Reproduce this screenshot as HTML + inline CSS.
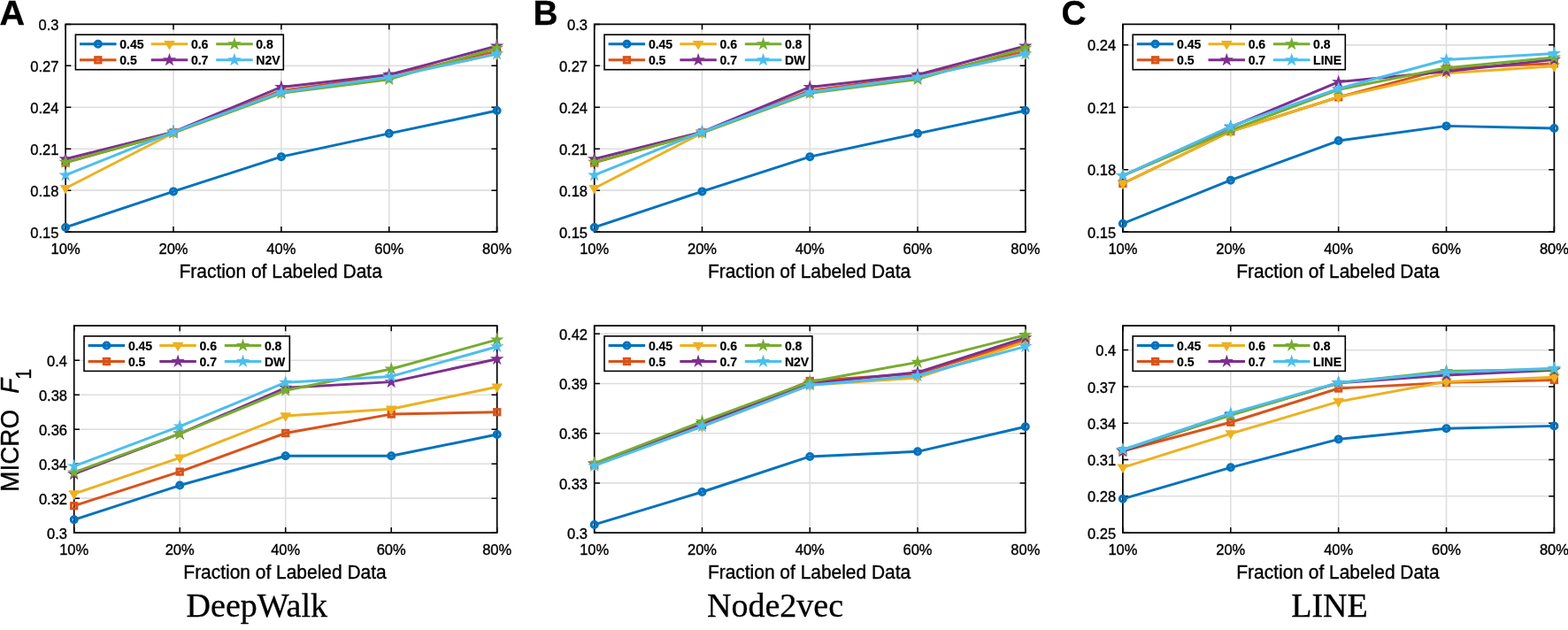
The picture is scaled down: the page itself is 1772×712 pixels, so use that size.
<!DOCTYPE html>
<html><head><meta charset="utf-8"><title>MICRO F1 vs Fraction of Labeled Data</title>
<style>html,body{margin:0;padding:0;background:#fff;}svg{display:block;}.t{font-family:"Liberation Sans",Arial,Helvetica,sans-serif;fill:#000;stroke:#000;stroke-width:0.35px;}.b{stroke-width:0.2px;}.s{font-family:"Liberation Serif","Times New Roman",serif;fill:#000;stroke:#000;stroke-width:0.3px;}</style>
</head><body>
<svg width="1772" height="712" viewBox="0 0 1772 712">
<rect width="1772" height="712" fill="#fff"/>
<path d="M195.97 27.4V262.1M317.85 27.4V262.1M439.73 27.4V262.1M74.1 215.16H561.6M74.1 168.22H561.6M74.1 121.28H561.6M74.1 74.34H561.6" stroke="#dedede" stroke-width="1.6" fill="none"/>
<path d="M74.1 262.1v-6.2M74.1 27.4v6.2M195.97 262.1v-6.2M195.97 27.4v6.2M317.85 262.1v-6.2M317.85 27.4v6.2M439.73 262.1v-6.2M439.73 27.4v6.2M561.6 262.1v-6.2M561.6 27.4v6.2M74.1 262.1h6.2M561.6 262.1h-6.2M74.1 215.16h6.2M561.6 215.16h-6.2M74.1 168.22h6.2M561.6 168.22h-6.2M74.1 121.28h6.2M561.6 121.28h-6.2M74.1 74.34h6.2M561.6 74.34h-6.2M74.1 27.4h6.2M561.6 27.4h-6.2" stroke="#000" stroke-width="1.5" fill="none"/>
<rect x="74.1" y="27.4" width="487.5" height="234.7" fill="none" stroke="#000" stroke-width="1.7"/>
<text class="t" x="74.1" y="287" font-size="16.5" text-anchor="middle">10%</text>
<text class="t" x="195.97" y="287" font-size="16.5" text-anchor="middle">20%</text>
<text class="t" x="317.85" y="287" font-size="16.5" text-anchor="middle">40%</text>
<text class="t" x="439.73" y="287" font-size="16.5" text-anchor="middle">60%</text>
<text class="t" x="561.6" y="287" font-size="16.5" text-anchor="middle">80%</text>
<text class="t" x="66.4" y="268.7" font-size="16.5" text-anchor="end">0.15</text>
<text class="t" x="66.4" y="221.76" font-size="16.5" text-anchor="end">0.18</text>
<text class="t" x="66.4" y="174.82" font-size="16.5" text-anchor="end">0.21</text>
<text class="t" x="66.4" y="127.88" font-size="16.5" text-anchor="end">0.24</text>
<text class="t" x="66.4" y="80.94" font-size="16.5" text-anchor="end">0.27</text>
<text class="t" x="66.4" y="34" font-size="16.5" text-anchor="end">0.3</text>
<text class="t" transform="translate(317.15,314) scale(1,1.04)" font-size="20.95" text-anchor="middle">Fraction of Labeled Data</text>
<polyline points="74.1,256.94 195.97,216.41 317.85,177.14 439.73,150.85 561.6,125.04" fill="none" stroke="#0072BD" stroke-width="2.95" stroke-linejoin="round"/>
<circle cx="74.1" cy="256.94" r="3.45" fill="none" stroke="#0072BD" stroke-width="3.1"/>
<circle cx="195.97" cy="216.41" r="3.45" fill="none" stroke="#0072BD" stroke-width="3.1"/>
<circle cx="317.85" cy="177.14" r="3.45" fill="none" stroke="#0072BD" stroke-width="3.1"/>
<circle cx="439.73" cy="150.85" r="3.45" fill="none" stroke="#0072BD" stroke-width="3.1"/>
<circle cx="561.6" cy="125.04" r="3.45" fill="none" stroke="#0072BD" stroke-width="3.1"/>
<polyline points="74.1,183.87 195.97,149.76 317.85,102.5 439.73,86.07 561.6,57.91" fill="none" stroke="#D95319" stroke-width="2.95" stroke-linejoin="round"/>
<rect x="70.9" y="180.67" width="6.4" height="6.4" fill="none" stroke="#D95319" stroke-width="2.9"/>
<rect x="192.78" y="146.56" width="6.4" height="6.4" fill="none" stroke="#D95319" stroke-width="2.9"/>
<rect x="314.65" y="99.3" width="6.4" height="6.4" fill="none" stroke="#D95319" stroke-width="2.9"/>
<rect x="436.53" y="82.87" width="6.4" height="6.4" fill="none" stroke="#D95319" stroke-width="2.9"/>
<rect x="558.4" y="54.71" width="6.4" height="6.4" fill="none" stroke="#D95319" stroke-width="2.9"/>
<polyline points="74.1,212.81 195.97,150.23 317.85,105.16 439.73,86.86 561.6,61.04" fill="none" stroke="#EDB120" stroke-width="2.95" stroke-linejoin="round"/>
<polygon points="67.7,209.01 80.5,209.01 74.1,219.61" fill="#EDB120"/>
<polygon points="189.57,146.43 202.38,146.43 195.97,157.03" fill="#EDB120"/>
<polygon points="311.45,101.36 324.25,101.36 317.85,111.96" fill="#EDB120"/>
<polygon points="433.33,83.06 446.12,83.06 439.73,93.66" fill="#EDB120"/>
<polygon points="555.2,57.24 568,57.24 561.6,67.84" fill="#EDB120"/>
<polyline points="74.1,179.8 195.97,149.13 317.85,98.44 439.73,84.51 561.6,51.97" fill="none" stroke="#7E2F8E" stroke-width="2.95" stroke-linejoin="round"/>
<polygon points="74.1,171.7 75.92,177.3 81.8,177.3 77.04,180.75 78.86,186.35 74.1,182.89 69.34,186.35 71.16,180.75 66.4,177.3 72.28,177.3" fill="#7E2F8E"/>
<polygon points="195.97,141.03 197.79,146.63 203.68,146.63 198.92,150.09 200.74,155.68 195.97,152.23 191.21,155.68 193.03,150.09 188.27,146.63 194.16,146.63" fill="#7E2F8E"/>
<polygon points="317.85,90.34 319.67,95.93 325.55,95.93 320.79,99.39 322.61,104.99 317.85,101.53 313.09,104.99 314.91,99.39 310.15,95.93 316.03,95.93" fill="#7E2F8E"/>
<polygon points="439.73,76.41 441.54,82.01 447.43,82.01 442.67,85.47 444.49,91.06 439.73,87.6 434.96,91.06 436.78,85.47 432.02,82.01 437.91,82.01" fill="#7E2F8E"/>
<polygon points="561.6,43.87 563.42,49.46 569.3,49.46 564.54,52.92 566.36,58.52 561.6,55.06 556.84,58.52 558.66,52.92 553.9,49.46 559.78,49.46" fill="#7E2F8E"/>
<polyline points="74.1,183.24 195.97,150.23 317.85,105.32 439.73,89.67 561.6,54.31" fill="none" stroke="#77AC30" stroke-width="2.95" stroke-linejoin="round"/>
<polygon points="74.1,175.14 75.92,180.74 81.8,180.74 77.04,184.2 78.86,189.79 74.1,186.34 69.34,189.79 71.16,184.2 66.4,180.74 72.28,180.74" fill="#77AC30"/>
<polygon points="195.97,142.13 197.79,147.72 203.68,147.72 198.92,151.18 200.74,156.78 195.97,153.32 191.21,156.78 193.03,151.18 188.27,147.72 194.16,147.72" fill="#77AC30"/>
<polygon points="317.85,97.22 319.67,102.82 325.55,102.82 320.79,106.28 322.61,111.87 317.85,108.41 313.09,111.87 314.91,106.28 310.15,102.82 316.03,102.82" fill="#77AC30"/>
<polygon points="439.73,81.57 441.54,87.17 447.43,87.17 442.67,90.63 444.49,96.23 439.73,92.77 434.96,96.23 436.78,90.63 432.02,87.17 437.91,87.17" fill="#77AC30"/>
<polygon points="561.6,46.21 563.42,51.81 569.3,51.81 564.54,55.27 566.36,60.87 561.6,57.41 556.84,60.87 558.66,55.27 553.9,51.81 559.78,51.81" fill="#77AC30"/>
<polyline points="74.1,197.95 195.97,149.13 317.85,104.23 439.73,87.33 561.6,60.88" fill="none" stroke="#4DBEEE" stroke-width="2.95" stroke-linejoin="round"/>
<polygon points="74.1,189.85 75.92,195.45 81.8,195.45 77.04,198.9 78.86,204.5 74.1,201.04 69.34,204.5 71.16,198.9 66.4,195.45 72.28,195.45" fill="#4DBEEE"/>
<polygon points="195.97,141.03 197.79,146.63 203.68,146.63 198.92,150.09 200.74,155.68 195.97,152.23 191.21,155.68 193.03,150.09 188.27,146.63 194.16,146.63" fill="#4DBEEE"/>
<polygon points="317.85,96.13 319.67,101.72 325.55,101.72 320.79,105.18 322.61,110.78 317.85,107.32 313.09,110.78 314.91,105.18 310.15,101.72 316.03,101.72" fill="#4DBEEE"/>
<polygon points="439.73,79.23 441.54,84.82 447.43,84.82 442.67,88.28 444.49,93.88 439.73,90.42 434.96,93.88 436.78,88.28 432.02,84.82 437.91,84.82" fill="#4DBEEE"/>
<polygon points="561.6,52.78 563.42,58.38 569.3,58.38 564.54,61.84 566.36,67.44 561.6,63.98 556.84,67.44 558.66,61.84 553.9,58.38 559.78,58.38" fill="#4DBEEE"/>
<rect x="85.4" y="39.2" width="234.9" height="39.5" fill="#fff" stroke="#000" stroke-width="1.6"/>
<path d="M90 49.8h41.5" stroke="#0072BD" stroke-width="2.95"/>
<circle cx="110.8" cy="49.8" r="3.45" fill="none" stroke="#0072BD" stroke-width="3.1"/>
<text class="t b" x="135.3" y="55.1" font-size="14" font-weight="bold">0.45</text>
<path d="M90 67.8h41.5" stroke="#D95319" stroke-width="2.95"/>
<rect x="107.6" y="64.6" width="6.4" height="6.4" fill="none" stroke="#D95319" stroke-width="2.9"/>
<text class="t b" x="135.3" y="73.1" font-size="14" font-weight="bold">0.5</text>
<path d="M170.7 49.8h41.5" stroke="#EDB120" stroke-width="2.95"/>
<polygon points="185.1,46 197.9,46 191.5,56.6" fill="#EDB120"/>
<text class="t b" x="215.9" y="55.1" font-size="14" font-weight="bold">0.6</text>
<path d="M170.7 67.8h41.5" stroke="#7E2F8E" stroke-width="2.95"/>
<polygon points="191.5,59.7 193.32,65.3 199.2,65.3 194.44,68.76 196.26,74.35 191.5,70.89 186.74,74.35 188.56,68.76 183.8,65.3 189.68,65.3" fill="#7E2F8E"/>
<text class="t b" x="215.9" y="73.1" font-size="14" font-weight="bold">0.7</text>
<path d="M244.2 49.8h41.5" stroke="#77AC30" stroke-width="2.95"/>
<polygon points="264.9,41.7 266.72,47.3 272.6,47.3 267.84,50.76 269.66,56.35 264.9,52.89 260.14,56.35 261.96,50.76 257.2,47.3 263.08,47.3" fill="#77AC30"/>
<text class="t b" x="289.3" y="55.1" font-size="14" font-weight="bold">0.8</text>
<path d="M244.2 67.8h41.5" stroke="#4DBEEE" stroke-width="2.95"/>
<polygon points="264.9,59.7 266.72,65.3 272.6,65.3 267.84,68.76 269.66,74.35 264.9,70.89 260.14,74.35 261.96,68.76 257.2,65.3 263.08,65.3" fill="#4DBEEE"/>
<text class="t b" x="289.3" y="73.1" font-size="14" font-weight="bold">N2V</text>
<path d="M793.48 27.4V262.1M915.25 27.4V262.1M1037.03 27.4V262.1M671.7 215.16H1158.8M671.7 168.22H1158.8M671.7 121.28H1158.8M671.7 74.34H1158.8" stroke="#dedede" stroke-width="1.6" fill="none"/>
<path d="M671.7 262.1v-6.2M671.7 27.4v6.2M793.48 262.1v-6.2M793.48 27.4v6.2M915.25 262.1v-6.2M915.25 27.4v6.2M1037.03 262.1v-6.2M1037.03 27.4v6.2M1158.8 262.1v-6.2M1158.8 27.4v6.2M671.7 262.1h6.2M1158.8 262.1h-6.2M671.7 215.16h6.2M1158.8 215.16h-6.2M671.7 168.22h6.2M1158.8 168.22h-6.2M671.7 121.28h6.2M1158.8 121.28h-6.2M671.7 74.34h6.2M1158.8 74.34h-6.2M671.7 27.4h6.2M1158.8 27.4h-6.2" stroke="#000" stroke-width="1.5" fill="none"/>
<rect x="671.7" y="27.4" width="487.1" height="234.7" fill="none" stroke="#000" stroke-width="1.7"/>
<text class="t" x="671.7" y="287" font-size="16.5" text-anchor="middle">10%</text>
<text class="t" x="793.48" y="287" font-size="16.5" text-anchor="middle">20%</text>
<text class="t" x="915.25" y="287" font-size="16.5" text-anchor="middle">40%</text>
<text class="t" x="1037.03" y="287" font-size="16.5" text-anchor="middle">60%</text>
<text class="t" x="1158.8" y="287" font-size="16.5" text-anchor="middle">80%</text>
<text class="t" x="664" y="268.7" font-size="16.5" text-anchor="end">0.15</text>
<text class="t" x="664" y="221.76" font-size="16.5" text-anchor="end">0.18</text>
<text class="t" x="664" y="174.82" font-size="16.5" text-anchor="end">0.21</text>
<text class="t" x="664" y="127.88" font-size="16.5" text-anchor="end">0.24</text>
<text class="t" x="664" y="80.94" font-size="16.5" text-anchor="end">0.27</text>
<text class="t" x="664" y="34" font-size="16.5" text-anchor="end">0.3</text>
<text class="t" transform="translate(914.55,314) scale(1,1.04)" font-size="20.95" text-anchor="middle">Fraction of Labeled Data</text>
<polyline points="671.7,256.94 793.48,216.41 915.25,177.14 1037.03,150.85 1158.8,125.04" fill="none" stroke="#0072BD" stroke-width="2.95" stroke-linejoin="round"/>
<circle cx="671.7" cy="256.94" r="3.45" fill="none" stroke="#0072BD" stroke-width="3.1"/>
<circle cx="793.48" cy="216.41" r="3.45" fill="none" stroke="#0072BD" stroke-width="3.1"/>
<circle cx="915.25" cy="177.14" r="3.45" fill="none" stroke="#0072BD" stroke-width="3.1"/>
<circle cx="1037.03" cy="150.85" r="3.45" fill="none" stroke="#0072BD" stroke-width="3.1"/>
<circle cx="1158.8" cy="125.04" r="3.45" fill="none" stroke="#0072BD" stroke-width="3.1"/>
<polyline points="671.7,183.87 793.48,149.76 915.25,102.5 1037.03,86.07 1158.8,57.91" fill="none" stroke="#D95319" stroke-width="2.95" stroke-linejoin="round"/>
<rect x="668.5" y="180.67" width="6.4" height="6.4" fill="none" stroke="#D95319" stroke-width="2.9"/>
<rect x="790.27" y="146.56" width="6.4" height="6.4" fill="none" stroke="#D95319" stroke-width="2.9"/>
<rect x="912.05" y="99.3" width="6.4" height="6.4" fill="none" stroke="#D95319" stroke-width="2.9"/>
<rect x="1033.83" y="82.87" width="6.4" height="6.4" fill="none" stroke="#D95319" stroke-width="2.9"/>
<rect x="1155.6" y="54.71" width="6.4" height="6.4" fill="none" stroke="#D95319" stroke-width="2.9"/>
<polyline points="671.7,212.81 793.48,150.23 915.25,105.16 1037.03,86.86 1158.8,61.04" fill="none" stroke="#EDB120" stroke-width="2.95" stroke-linejoin="round"/>
<polygon points="665.3,209.01 678.1,209.01 671.7,219.61" fill="#EDB120"/>
<polygon points="787.08,146.43 799.88,146.43 793.48,157.03" fill="#EDB120"/>
<polygon points="908.85,101.36 921.65,101.36 915.25,111.96" fill="#EDB120"/>
<polygon points="1030.62,83.06 1043.43,83.06 1037.03,93.66" fill="#EDB120"/>
<polygon points="1152.4,57.24 1165.2,57.24 1158.8,67.84" fill="#EDB120"/>
<polyline points="671.7,179.8 793.48,149.13 915.25,98.44 1037.03,84.51 1158.8,51.97" fill="none" stroke="#7E2F8E" stroke-width="2.95" stroke-linejoin="round"/>
<polygon points="671.7,171.7 673.52,177.3 679.4,177.3 674.64,180.75 676.46,186.35 671.7,182.89 666.94,186.35 668.76,180.75 664,177.3 669.88,177.3" fill="#7E2F8E"/>
<polygon points="793.48,141.03 795.29,146.63 801.18,146.63 796.42,150.09 798.24,155.68 793.48,152.23 788.71,155.68 790.53,150.09 785.77,146.63 791.66,146.63" fill="#7E2F8E"/>
<polygon points="915.25,90.34 917.07,95.93 922.95,95.93 918.19,99.39 920.01,104.99 915.25,101.53 910.49,104.99 912.31,99.39 907.55,95.93 913.43,95.93" fill="#7E2F8E"/>
<polygon points="1037.03,76.41 1038.84,82.01 1044.73,82.01 1039.97,85.47 1041.79,91.06 1037.03,87.6 1032.26,91.06 1034.08,85.47 1029.32,82.01 1035.21,82.01" fill="#7E2F8E"/>
<polygon points="1158.8,43.87 1160.62,49.46 1166.5,49.46 1161.74,52.92 1163.56,58.52 1158.8,55.06 1154.04,58.52 1155.86,52.92 1151.1,49.46 1156.98,49.46" fill="#7E2F8E"/>
<polyline points="671.7,183.24 793.48,150.23 915.25,105.32 1037.03,89.67 1158.8,54.31" fill="none" stroke="#77AC30" stroke-width="2.95" stroke-linejoin="round"/>
<polygon points="671.7,175.14 673.52,180.74 679.4,180.74 674.64,184.2 676.46,189.79 671.7,186.34 666.94,189.79 668.76,184.2 664,180.74 669.88,180.74" fill="#77AC30"/>
<polygon points="793.48,142.13 795.29,147.72 801.18,147.72 796.42,151.18 798.24,156.78 793.48,153.32 788.71,156.78 790.53,151.18 785.77,147.72 791.66,147.72" fill="#77AC30"/>
<polygon points="915.25,97.22 917.07,102.82 922.95,102.82 918.19,106.28 920.01,111.87 915.25,108.41 910.49,111.87 912.31,106.28 907.55,102.82 913.43,102.82" fill="#77AC30"/>
<polygon points="1037.03,81.57 1038.84,87.17 1044.73,87.17 1039.97,90.63 1041.79,96.23 1037.03,92.77 1032.26,96.23 1034.08,90.63 1029.32,87.17 1035.21,87.17" fill="#77AC30"/>
<polygon points="1158.8,46.21 1160.62,51.81 1166.5,51.81 1161.74,55.27 1163.56,60.87 1158.8,57.41 1154.04,60.87 1155.86,55.27 1151.1,51.81 1156.98,51.81" fill="#77AC30"/>
<polyline points="671.7,197.95 793.48,149.13 915.25,104.23 1037.03,87.33 1158.8,60.88" fill="none" stroke="#4DBEEE" stroke-width="2.95" stroke-linejoin="round"/>
<polygon points="671.7,189.85 673.52,195.45 679.4,195.45 674.64,198.9 676.46,204.5 671.7,201.04 666.94,204.5 668.76,198.9 664,195.45 669.88,195.45" fill="#4DBEEE"/>
<polygon points="793.48,141.03 795.29,146.63 801.18,146.63 796.42,150.09 798.24,155.68 793.48,152.23 788.71,155.68 790.53,150.09 785.77,146.63 791.66,146.63" fill="#4DBEEE"/>
<polygon points="915.25,96.13 917.07,101.72 922.95,101.72 918.19,105.18 920.01,110.78 915.25,107.32 910.49,110.78 912.31,105.18 907.55,101.72 913.43,101.72" fill="#4DBEEE"/>
<polygon points="1037.03,79.23 1038.84,84.82 1044.73,84.82 1039.97,88.28 1041.79,93.88 1037.03,90.42 1032.26,93.88 1034.08,88.28 1029.32,84.82 1035.21,84.82" fill="#4DBEEE"/>
<polygon points="1158.8,52.78 1160.62,58.38 1166.5,58.38 1161.74,61.84 1163.56,67.44 1158.8,63.98 1154.04,67.44 1155.86,61.84 1151.1,58.38 1156.98,58.38" fill="#4DBEEE"/>
<rect x="683" y="39.2" width="231.6" height="39.5" fill="#fff" stroke="#000" stroke-width="1.6"/>
<path d="M687.6 49.8h41.5" stroke="#0072BD" stroke-width="2.95"/>
<circle cx="708.4" cy="49.8" r="3.45" fill="none" stroke="#0072BD" stroke-width="3.1"/>
<text class="t b" x="732.9" y="55.1" font-size="14" font-weight="bold">0.45</text>
<path d="M687.6 67.8h41.5" stroke="#D95319" stroke-width="2.95"/>
<rect x="705.2" y="64.6" width="6.4" height="6.4" fill="none" stroke="#D95319" stroke-width="2.9"/>
<text class="t b" x="732.9" y="73.1" font-size="14" font-weight="bold">0.5</text>
<path d="M768.3 49.8h41.5" stroke="#EDB120" stroke-width="2.95"/>
<polygon points="782.7,46 795.5,46 789.1,56.6" fill="#EDB120"/>
<text class="t b" x="813.5" y="55.1" font-size="14" font-weight="bold">0.6</text>
<path d="M768.3 67.8h41.5" stroke="#7E2F8E" stroke-width="2.95"/>
<polygon points="789.1,59.7 790.92,65.3 796.8,65.3 792.04,68.76 793.86,74.35 789.1,70.89 784.34,74.35 786.16,68.76 781.4,65.3 787.28,65.3" fill="#7E2F8E"/>
<text class="t b" x="813.5" y="73.1" font-size="14" font-weight="bold">0.7</text>
<path d="M841.8 49.8h41.5" stroke="#77AC30" stroke-width="2.95"/>
<polygon points="862.5,41.7 864.32,47.3 870.2,47.3 865.44,50.76 867.26,56.35 862.5,52.89 857.74,56.35 859.56,50.76 854.8,47.3 860.68,47.3" fill="#77AC30"/>
<text class="t b" x="886.9" y="55.1" font-size="14" font-weight="bold">0.8</text>
<path d="M841.8 67.8h41.5" stroke="#4DBEEE" stroke-width="2.95"/>
<polygon points="862.5,59.7 864.32,65.3 870.2,65.3 865.44,68.76 867.26,74.35 862.5,70.89 857.74,74.35 859.56,68.76 854.8,65.3 860.68,65.3" fill="#4DBEEE"/>
<text class="t b" x="886.9" y="73.1" font-size="14" font-weight="bold">DW</text>
<path d="M1390.78 27.4V262.1M1512.65 27.4V262.1M1634.53 27.4V262.1M1268.9 191.69H1756.4M1268.9 121.28H1756.4M1268.9 50.87H1756.4" stroke="#dedede" stroke-width="1.6" fill="none"/>
<path d="M1268.9 262.1v-6.2M1268.9 27.4v6.2M1390.78 262.1v-6.2M1390.78 27.4v6.2M1512.65 262.1v-6.2M1512.65 27.4v6.2M1634.53 262.1v-6.2M1634.53 27.4v6.2M1756.4 262.1v-6.2M1756.4 27.4v6.2M1268.9 262.1h6.2M1756.4 262.1h-6.2M1268.9 191.69h6.2M1756.4 191.69h-6.2M1268.9 121.28h6.2M1756.4 121.28h-6.2M1268.9 50.87h6.2M1756.4 50.87h-6.2" stroke="#000" stroke-width="1.5" fill="none"/>
<rect x="1268.9" y="27.4" width="487.5" height="234.7" fill="none" stroke="#000" stroke-width="1.7"/>
<text class="t" x="1268.9" y="287" font-size="16.5" text-anchor="middle">10%</text>
<text class="t" x="1390.78" y="287" font-size="16.5" text-anchor="middle">20%</text>
<text class="t" x="1512.65" y="287" font-size="16.5" text-anchor="middle">40%</text>
<text class="t" x="1634.53" y="287" font-size="16.5" text-anchor="middle">60%</text>
<text class="t" x="1756.4" y="287" font-size="16.5" text-anchor="middle">80%</text>
<text class="t" x="1261.2" y="268.7" font-size="16.5" text-anchor="end">0.15</text>
<text class="t" x="1261.2" y="198.29" font-size="16.5" text-anchor="end">0.18</text>
<text class="t" x="1261.2" y="127.88" font-size="16.5" text-anchor="end">0.21</text>
<text class="t" x="1261.2" y="57.47" font-size="16.5" text-anchor="end">0.24</text>
<text class="t" transform="translate(1511.95,314) scale(1,1.04)" font-size="20.95" text-anchor="middle">Fraction of Labeled Data</text>
<polyline points="1268.9,252.71 1390.78,203.66 1512.65,159.07 1634.53,142.4 1756.4,144.98" fill="none" stroke="#0072BD" stroke-width="2.95" stroke-linejoin="round"/>
<circle cx="1268.9" cy="252.71" r="3.45" fill="none" stroke="#0072BD" stroke-width="3.1"/>
<circle cx="1390.78" cy="203.66" r="3.45" fill="none" stroke="#0072BD" stroke-width="3.1"/>
<circle cx="1512.65" cy="159.07" r="3.45" fill="none" stroke="#0072BD" stroke-width="3.1"/>
<circle cx="1634.53" cy="142.4" r="3.45" fill="none" stroke="#0072BD" stroke-width="3.1"/>
<circle cx="1756.4" cy="144.98" r="3.45" fill="none" stroke="#0072BD" stroke-width="3.1"/>
<polyline points="1268.9,207.41 1390.78,148.51 1512.65,109.78 1634.53,77.39 1756.4,71.76" fill="none" stroke="#D95319" stroke-width="2.95" stroke-linejoin="round"/>
<rect x="1265.7" y="204.21" width="6.4" height="6.4" fill="none" stroke="#D95319" stroke-width="2.9"/>
<rect x="1387.58" y="145.31" width="6.4" height="6.4" fill="none" stroke="#D95319" stroke-width="2.9"/>
<rect x="1509.45" y="106.58" width="6.4" height="6.4" fill="none" stroke="#D95319" stroke-width="2.9"/>
<rect x="1631.33" y="74.19" width="6.4" height="6.4" fill="none" stroke="#D95319" stroke-width="2.9"/>
<rect x="1753.2" y="68.56" width="6.4" height="6.4" fill="none" stroke="#D95319" stroke-width="2.9"/>
<polyline points="1268.9,207.41 1390.78,148.51 1512.65,109.78 1634.53,82.79 1756.4,74.81" fill="none" stroke="#EDB120" stroke-width="2.95" stroke-linejoin="round"/>
<polygon points="1262.5,203.61 1275.3,203.61 1268.9,214.21" fill="#EDB120"/>
<polygon points="1384.38,144.71 1397.18,144.71 1390.78,155.31" fill="#EDB120"/>
<polygon points="1506.25,105.98 1519.05,105.98 1512.65,116.58" fill="#EDB120"/>
<polygon points="1628.12,78.99 1640.93,78.99 1634.53,89.59" fill="#EDB120"/>
<polygon points="1750,71.01 1762.8,71.01 1756.4,81.61" fill="#EDB120"/>
<polyline points="1268.9,198.5 1390.78,143.58 1512.65,92.65 1634.53,80.68 1756.4,67.3" fill="none" stroke="#7E2F8E" stroke-width="2.95" stroke-linejoin="round"/>
<polygon points="1268.9,190.4 1270.72,195.99 1276.6,195.99 1271.84,199.45 1273.66,205.05 1268.9,201.59 1264.14,205.05 1265.96,199.45 1261.2,195.99 1267.08,195.99" fill="#7E2F8E"/>
<polygon points="1390.78,135.48 1392.59,141.07 1398.48,141.07 1393.72,144.53 1395.54,150.13 1390.78,146.67 1386.01,150.13 1387.83,144.53 1383.07,141.07 1388.96,141.07" fill="#7E2F8E"/>
<polygon points="1512.65,84.55 1514.47,90.14 1520.35,90.14 1515.59,93.6 1517.41,99.2 1512.65,95.74 1507.89,99.2 1509.71,93.6 1504.95,90.14 1510.83,90.14" fill="#7E2F8E"/>
<polygon points="1634.53,72.58 1636.34,78.17 1642.23,78.17 1637.47,81.63 1639.29,87.23 1634.53,83.77 1629.76,87.23 1631.58,81.63 1626.82,78.17 1632.71,78.17" fill="#7E2F8E"/>
<polygon points="1756.4,59.2 1758.22,64.8 1764.1,64.8 1759.34,68.26 1761.16,73.85 1756.4,70.39 1751.64,73.85 1753.46,68.26 1748.7,64.8 1754.58,64.8" fill="#7E2F8E"/>
<polyline points="1268.9,198.5 1390.78,147.1 1512.65,101.33 1634.53,76.69 1756.4,64.95" fill="none" stroke="#77AC30" stroke-width="2.95" stroke-linejoin="round"/>
<polygon points="1268.9,190.4 1270.72,195.99 1276.6,195.99 1271.84,199.45 1273.66,205.05 1268.9,201.59 1264.14,205.05 1265.96,199.45 1261.2,195.99 1267.08,195.99" fill="#77AC30"/>
<polygon points="1390.78,139 1392.59,144.59 1398.48,144.59 1393.72,148.05 1395.54,153.65 1390.78,150.19 1386.01,153.65 1387.83,148.05 1383.07,144.59 1388.96,144.59" fill="#77AC30"/>
<polygon points="1512.65,93.23 1514.47,98.83 1520.35,98.83 1515.59,102.29 1517.41,107.88 1512.65,104.42 1507.89,107.88 1509.71,102.29 1504.95,98.83 1510.83,98.83" fill="#77AC30"/>
<polygon points="1634.53,68.59 1636.34,74.18 1642.23,74.18 1637.47,77.64 1639.29,83.24 1634.53,79.78 1629.76,83.24 1631.58,77.64 1626.82,74.18 1632.71,74.18" fill="#77AC30"/>
<polygon points="1756.4,56.85 1758.22,62.45 1764.1,62.45 1759.34,65.91 1761.16,71.51 1756.4,68.05 1751.64,71.51 1753.46,65.91 1748.7,62.45 1754.58,62.45" fill="#77AC30"/>
<polyline points="1268.9,198.5 1390.78,142.87 1512.65,100.16 1634.53,67.53 1756.4,60.49" fill="none" stroke="#4DBEEE" stroke-width="2.95" stroke-linejoin="round"/>
<polygon points="1268.9,190.4 1270.72,195.99 1276.6,195.99 1271.84,199.45 1273.66,205.05 1268.9,201.59 1264.14,205.05 1265.96,199.45 1261.2,195.99 1267.08,195.99" fill="#4DBEEE"/>
<polygon points="1390.78,134.77 1392.59,140.37 1398.48,140.37 1393.72,143.83 1395.54,149.43 1390.78,145.97 1386.01,149.43 1387.83,143.83 1383.07,140.37 1388.96,140.37" fill="#4DBEEE"/>
<polygon points="1512.65,92.06 1514.47,97.65 1520.35,97.65 1515.59,101.11 1517.41,106.71 1512.65,103.25 1507.89,106.71 1509.71,101.11 1504.95,97.65 1510.83,97.65" fill="#4DBEEE"/>
<polygon points="1634.53,59.43 1636.34,65.03 1642.23,65.03 1637.47,68.49 1639.29,74.09 1634.53,70.63 1629.76,74.09 1631.58,68.49 1626.82,65.03 1632.71,65.03" fill="#4DBEEE"/>
<polygon points="1756.4,52.39 1758.22,57.99 1764.1,57.99 1759.34,61.45 1761.16,67.05 1756.4,63.59 1751.64,67.05 1753.46,61.45 1748.7,57.99 1754.58,57.99" fill="#4DBEEE"/>
<rect x="1280.2" y="39.2" width="240.1" height="39.5" fill="#fff" stroke="#000" stroke-width="1.6"/>
<path d="M1284.8 49.8h41.5" stroke="#0072BD" stroke-width="2.95"/>
<circle cx="1305.6" cy="49.8" r="3.45" fill="none" stroke="#0072BD" stroke-width="3.1"/>
<text class="t b" x="1330.1" y="55.1" font-size="14" font-weight="bold">0.45</text>
<path d="M1284.8 67.8h41.5" stroke="#D95319" stroke-width="2.95"/>
<rect x="1302.4" y="64.6" width="6.4" height="6.4" fill="none" stroke="#D95319" stroke-width="2.9"/>
<text class="t b" x="1330.1" y="73.1" font-size="14" font-weight="bold">0.5</text>
<path d="M1365.5 49.8h41.5" stroke="#EDB120" stroke-width="2.95"/>
<polygon points="1379.9,46 1392.7,46 1386.3,56.6" fill="#EDB120"/>
<text class="t b" x="1410.7" y="55.1" font-size="14" font-weight="bold">0.6</text>
<path d="M1365.5 67.8h41.5" stroke="#7E2F8E" stroke-width="2.95"/>
<polygon points="1386.3,59.7 1388.12,65.3 1394,65.3 1389.24,68.76 1391.06,74.35 1386.3,70.89 1381.54,74.35 1383.36,68.76 1378.6,65.3 1384.48,65.3" fill="#7E2F8E"/>
<text class="t b" x="1410.7" y="73.1" font-size="14" font-weight="bold">0.7</text>
<path d="M1439 49.8h41.5" stroke="#77AC30" stroke-width="2.95"/>
<polygon points="1459.7,41.7 1461.52,47.3 1467.4,47.3 1462.64,50.76 1464.46,56.35 1459.7,52.89 1454.94,56.35 1456.76,50.76 1452,47.3 1457.88,47.3" fill="#77AC30"/>
<text class="t b" x="1484.1" y="55.1" font-size="14" font-weight="bold">0.8</text>
<path d="M1439 67.8h41.5" stroke="#4DBEEE" stroke-width="2.95"/>
<polygon points="1459.7,59.7 1461.52,65.3 1467.4,65.3 1462.64,68.76 1464.46,74.35 1459.7,70.89 1454.94,74.35 1456.76,68.76 1452,65.3 1457.88,65.3" fill="#4DBEEE"/>
<text class="t b" x="1484.1" y="73.1" font-size="14" font-weight="bold">LINE</text>
<path d="M203.2 368.1V602.1M322.7 368.1V602.1M442.2 368.1V602.1M83.7 563.14H561.7M83.7 524.18H561.7M83.7 485.22H561.7M83.7 446.26H561.7M83.7 407.3H561.7" stroke="#dedede" stroke-width="1.6" fill="none"/>
<path d="M83.7 602.1v-6.2M83.7 368.1v6.2M203.2 602.1v-6.2M203.2 368.1v6.2M322.7 602.1v-6.2M322.7 368.1v6.2M442.2 602.1v-6.2M442.2 368.1v6.2M561.7 602.1v-6.2M561.7 368.1v6.2M83.7 602.1h6.2M561.7 602.1h-6.2M83.7 563.14h6.2M561.7 563.14h-6.2M83.7 524.18h6.2M561.7 524.18h-6.2M83.7 485.22h6.2M561.7 485.22h-6.2M83.7 446.26h6.2M561.7 446.26h-6.2M83.7 407.3h6.2M561.7 407.3h-6.2" stroke="#000" stroke-width="1.5" fill="none"/>
<rect x="83.7" y="368.1" width="478" height="234" fill="none" stroke="#000" stroke-width="1.7"/>
<text class="t" x="83.7" y="627" font-size="16.5" text-anchor="middle">10%</text>
<text class="t" x="203.2" y="627" font-size="16.5" text-anchor="middle">20%</text>
<text class="t" x="322.7" y="627" font-size="16.5" text-anchor="middle">40%</text>
<text class="t" x="442.2" y="627" font-size="16.5" text-anchor="middle">60%</text>
<text class="t" x="561.7" y="627" font-size="16.5" text-anchor="middle">80%</text>
<text class="t" x="76" y="608.7" font-size="16.5" text-anchor="end">0.3</text>
<text class="t" x="76" y="569.74" font-size="16.5" text-anchor="end">0.32</text>
<text class="t" x="76" y="530.78" font-size="16.5" text-anchor="end">0.34</text>
<text class="t" x="76" y="491.82" font-size="16.5" text-anchor="end">0.36</text>
<text class="t" x="76" y="452.86" font-size="16.5" text-anchor="end">0.38</text>
<text class="t" x="76" y="413.9" font-size="16.5" text-anchor="end">0.4</text>
<text class="t" transform="translate(322,654) scale(1,1.04)" font-size="20.95" text-anchor="middle">Fraction of Labeled Data</text>
<polyline points="83.7,587.3 203.2,548.53 322.7,515.22 442.2,515.22 561.7,491.06" fill="none" stroke="#0072BD" stroke-width="2.95" stroke-linejoin="round"/>
<circle cx="83.7" cy="587.3" r="3.45" fill="none" stroke="#0072BD" stroke-width="3.1"/>
<circle cx="203.2" cy="548.53" r="3.45" fill="none" stroke="#0072BD" stroke-width="3.1"/>
<circle cx="322.7" cy="515.22" r="3.45" fill="none" stroke="#0072BD" stroke-width="3.1"/>
<circle cx="442.2" cy="515.22" r="3.45" fill="none" stroke="#0072BD" stroke-width="3.1"/>
<circle cx="561.7" cy="491.06" r="3.45" fill="none" stroke="#0072BD" stroke-width="3.1"/>
<polyline points="83.7,571.71 203.2,533.14 322.7,489.51 442.2,468.08 561.7,465.74" fill="none" stroke="#D95319" stroke-width="2.95" stroke-linejoin="round"/>
<rect x="80.5" y="568.51" width="6.4" height="6.4" fill="none" stroke="#D95319" stroke-width="2.9"/>
<rect x="200" y="529.94" width="6.4" height="6.4" fill="none" stroke="#D95319" stroke-width="2.9"/>
<rect x="319.5" y="486.31" width="6.4" height="6.4" fill="none" stroke="#D95319" stroke-width="2.9"/>
<rect x="439" y="464.88" width="6.4" height="6.4" fill="none" stroke="#D95319" stroke-width="2.9"/>
<rect x="558.5" y="462.54" width="6.4" height="6.4" fill="none" stroke="#D95319" stroke-width="2.9"/>
<polyline points="83.7,558.08 203.2,517.36 322.7,470.03 442.2,462.23 561.7,437.3" fill="none" stroke="#EDB120" stroke-width="2.95" stroke-linejoin="round"/>
<polygon points="77.3,554.28 90.1,554.28 83.7,564.88" fill="#EDB120"/>
<polygon points="196.8,513.56 209.6,513.56 203.2,524.16" fill="#EDB120"/>
<polygon points="316.3,466.23 329.1,466.23 322.7,476.83" fill="#EDB120"/>
<polygon points="435.8,458.43 448.6,458.43 442.2,469.03" fill="#EDB120"/>
<polygon points="555.3,433.5 568.1,433.5 561.7,444.1" fill="#EDB120"/>
<polyline points="83.7,535.67 203.2,490.09 322.7,438.27 442.2,431.65 561.7,405.74" fill="none" stroke="#7E2F8E" stroke-width="2.95" stroke-linejoin="round"/>
<polygon points="83.7,527.57 85.52,533.17 91.4,533.17 86.64,536.63 88.46,542.23 83.7,538.77 78.94,542.23 80.76,536.63 76,533.17 81.88,533.17" fill="#7E2F8E"/>
<polygon points="203.2,481.99 205.02,487.59 210.9,487.59 206.14,491.05 207.96,496.64 203.2,493.18 198.44,496.64 200.26,491.05 195.5,487.59 201.38,487.59" fill="#7E2F8E"/>
<polygon points="322.7,430.17 324.52,435.77 330.4,435.77 325.64,439.23 327.46,444.83 322.7,441.37 317.94,444.83 319.76,439.23 315,435.77 320.88,435.77" fill="#7E2F8E"/>
<polygon points="442.2,423.55 444.02,429.15 449.9,429.15 445.14,432.61 446.96,438.2 442.2,434.74 437.44,438.2 439.26,432.61 434.5,429.15 440.38,429.15" fill="#7E2F8E"/>
<polygon points="561.7,397.64 563.52,403.24 569.4,403.24 564.64,406.7 566.46,412.29 561.7,408.84 556.94,412.29 558.76,406.7 554,403.24 559.88,403.24" fill="#7E2F8E"/>
<polyline points="83.7,533.92 203.2,490.09 322.7,441.2 442.2,417.04 561.7,383.92" fill="none" stroke="#77AC30" stroke-width="2.95" stroke-linejoin="round"/>
<polygon points="83.7,525.82 85.52,531.42 91.4,531.42 86.64,534.88 88.46,540.47 83.7,537.01 78.94,540.47 80.76,534.88 76,531.42 81.88,531.42" fill="#77AC30"/>
<polygon points="203.2,481.99 205.02,487.59 210.9,487.59 206.14,491.05 207.96,496.64 203.2,493.18 198.44,496.64 200.26,491.05 195.5,487.59 201.38,487.59" fill="#77AC30"/>
<polygon points="322.7,433.1 324.52,438.69 330.4,438.69 325.64,442.15 327.46,447.75 322.7,444.29 317.94,447.75 319.76,442.15 315,438.69 320.88,438.69" fill="#77AC30"/>
<polygon points="442.2,408.94 444.02,414.54 449.9,414.54 445.14,418 446.96,423.59 442.2,420.13 437.44,423.59 439.26,418 434.5,414.54 440.38,414.54" fill="#77AC30"/>
<polygon points="561.7,375.82 563.52,381.42 569.4,381.42 564.64,384.88 566.46,390.48 561.7,387.02 556.94,390.48 558.76,384.88 554,381.42 559.88,381.42" fill="#77AC30"/>
<polyline points="83.7,526.91 203.2,481.91 322.7,432.23 442.2,425.42 561.7,391.72" fill="none" stroke="#4DBEEE" stroke-width="2.95" stroke-linejoin="round"/>
<polygon points="83.7,518.81 85.52,524.4 91.4,524.4 86.64,527.86 88.46,533.46 83.7,530 78.94,533.46 80.76,527.86 76,524.4 81.88,524.4" fill="#4DBEEE"/>
<polygon points="203.2,473.81 205.02,479.41 210.9,479.41 206.14,482.86 207.96,488.46 203.2,485 198.44,488.46 200.26,482.86 195.5,479.41 201.38,479.41" fill="#4DBEEE"/>
<polygon points="322.7,424.13 324.52,429.73 330.4,429.73 325.64,433.19 327.46,438.79 322.7,435.33 317.94,438.79 319.76,433.19 315,429.73 320.88,429.73" fill="#4DBEEE"/>
<polygon points="442.2,417.32 444.02,422.91 449.9,422.91 445.14,426.37 446.96,431.97 442.2,428.51 437.44,431.97 439.26,426.37 434.5,422.91 440.38,422.91" fill="#4DBEEE"/>
<polygon points="561.7,383.62 563.52,389.21 569.4,389.21 564.64,392.67 566.46,398.27 561.7,394.81 556.94,398.27 558.76,392.67 554,389.21 559.88,389.21" fill="#4DBEEE"/>
<rect x="95" y="379.9" width="232.3" height="39.5" fill="#fff" stroke="#000" stroke-width="1.6"/>
<path d="M99.6 390.5h41.5" stroke="#0072BD" stroke-width="2.95"/>
<circle cx="120.4" cy="390.5" r="3.45" fill="none" stroke="#0072BD" stroke-width="3.1"/>
<text class="t b" x="144.9" y="395.8" font-size="14" font-weight="bold">0.45</text>
<path d="M99.6 408.5h41.5" stroke="#D95319" stroke-width="2.95"/>
<rect x="117.2" y="405.3" width="6.4" height="6.4" fill="none" stroke="#D95319" stroke-width="2.9"/>
<text class="t b" x="144.9" y="413.8" font-size="14" font-weight="bold">0.5</text>
<path d="M180.3 390.5h41.5" stroke="#EDB120" stroke-width="2.95"/>
<polygon points="194.7,386.7 207.5,386.7 201.1,397.3" fill="#EDB120"/>
<text class="t b" x="225.5" y="395.8" font-size="14" font-weight="bold">0.6</text>
<path d="M180.3 408.5h41.5" stroke="#7E2F8E" stroke-width="2.95"/>
<polygon points="201.1,400.4 202.92,406 208.8,406 204.04,409.46 205.86,415.05 201.1,411.59 196.34,415.05 198.16,409.46 193.4,406 199.28,406" fill="#7E2F8E"/>
<text class="t b" x="225.5" y="413.8" font-size="14" font-weight="bold">0.7</text>
<path d="M253.8 390.5h41.5" stroke="#77AC30" stroke-width="2.95"/>
<polygon points="274.5,382.4 276.32,388 282.2,388 277.44,391.46 279.26,397.05 274.5,393.59 269.74,397.05 271.56,391.46 266.8,388 272.68,388" fill="#77AC30"/>
<text class="t b" x="298.9" y="395.8" font-size="14" font-weight="bold">0.8</text>
<path d="M253.8 408.5h41.5" stroke="#4DBEEE" stroke-width="2.95"/>
<polygon points="274.5,400.4 276.32,406 282.2,406 277.44,409.46 279.26,415.05 274.5,411.59 269.74,415.05 271.56,409.46 266.8,406 272.68,406" fill="#4DBEEE"/>
<text class="t b" x="298.9" y="413.8" font-size="14" font-weight="bold">DW</text>
<path d="M793.48 368.1V602.1M915.25 368.1V602.1M1037.03 368.1V602.1M671.7 545.91H1158.8M671.7 489.72H1158.8M671.7 433.53H1158.8M671.7 377.34H1158.8" stroke="#dedede" stroke-width="1.6" fill="none"/>
<path d="M671.7 602.1v-6.2M671.7 368.1v6.2M793.48 602.1v-6.2M793.48 368.1v6.2M915.25 602.1v-6.2M915.25 368.1v6.2M1037.03 602.1v-6.2M1037.03 368.1v6.2M1158.8 602.1v-6.2M1158.8 368.1v6.2M671.7 602.1h6.2M1158.8 602.1h-6.2M671.7 545.91h6.2M1158.8 545.91h-6.2M671.7 489.72h6.2M1158.8 489.72h-6.2M671.7 433.53h6.2M1158.8 433.53h-6.2M671.7 377.34h6.2M1158.8 377.34h-6.2" stroke="#000" stroke-width="1.5" fill="none"/>
<rect x="671.7" y="368.1" width="487.1" height="234" fill="none" stroke="#000" stroke-width="1.7"/>
<text class="t" x="671.7" y="627" font-size="16.5" text-anchor="middle">10%</text>
<text class="t" x="793.48" y="627" font-size="16.5" text-anchor="middle">20%</text>
<text class="t" x="915.25" y="627" font-size="16.5" text-anchor="middle">40%</text>
<text class="t" x="1037.03" y="627" font-size="16.5" text-anchor="middle">60%</text>
<text class="t" x="1158.8" y="627" font-size="16.5" text-anchor="middle">80%</text>
<text class="t" x="664" y="608.7" font-size="16.5" text-anchor="end">0.3</text>
<text class="t" x="664" y="552.51" font-size="16.5" text-anchor="end">0.33</text>
<text class="t" x="664" y="496.32" font-size="16.5" text-anchor="end">0.36</text>
<text class="t" x="664" y="440.13" font-size="16.5" text-anchor="end">0.39</text>
<text class="t" x="664" y="383.94" font-size="16.5" text-anchor="end">0.42</text>
<text class="t" transform="translate(914.55,654) scale(1,1.04)" font-size="20.95" text-anchor="middle">Fraction of Labeled Data</text>
<polyline points="671.7,592.92 793.48,556.02 915.25,515.94 1037.03,510.32 1158.8,482.23" fill="none" stroke="#0072BD" stroke-width="2.95" stroke-linejoin="round"/>
<circle cx="671.7" cy="592.92" r="3.45" fill="none" stroke="#0072BD" stroke-width="3.1"/>
<circle cx="793.48" cy="556.02" r="3.45" fill="none" stroke="#0072BD" stroke-width="3.1"/>
<circle cx="915.25" cy="515.94" r="3.45" fill="none" stroke="#0072BD" stroke-width="3.1"/>
<circle cx="1037.03" cy="510.32" r="3.45" fill="none" stroke="#0072BD" stroke-width="3.1"/>
<circle cx="1158.8" cy="482.23" r="3.45" fill="none" stroke="#0072BD" stroke-width="3.1"/>
<polyline points="671.7,525.31 793.48,480.36 915.25,430.53 1037.03,422.29 1158.8,384.64" fill="none" stroke="#D95319" stroke-width="2.95" stroke-linejoin="round"/>
<rect x="668.5" y="522.11" width="6.4" height="6.4" fill="none" stroke="#D95319" stroke-width="2.9"/>
<rect x="790.27" y="477.16" width="6.4" height="6.4" fill="none" stroke="#D95319" stroke-width="2.9"/>
<rect x="912.05" y="427.33" width="6.4" height="6.4" fill="none" stroke="#D95319" stroke-width="2.9"/>
<rect x="1033.83" y="419.09" width="6.4" height="6.4" fill="none" stroke="#D95319" stroke-width="2.9"/>
<rect x="1155.6" y="381.44" width="6.4" height="6.4" fill="none" stroke="#D95319" stroke-width="2.9"/>
<polyline points="671.7,525.31 793.48,482.23 915.25,435.4 1037.03,426.97 1158.8,386.52" fill="none" stroke="#EDB120" stroke-width="2.95" stroke-linejoin="round"/>
<polygon points="665.3,521.51 678.1,521.51 671.7,532.11" fill="#EDB120"/>
<polygon points="787.08,478.43 799.88,478.43 793.48,489.03" fill="#EDB120"/>
<polygon points="908.85,431.6 921.65,431.6 915.25,442.2" fill="#EDB120"/>
<polygon points="1030.62,423.17 1043.43,423.17 1037.03,433.77" fill="#EDB120"/>
<polygon points="1152.4,382.72 1165.2,382.72 1158.8,393.32" fill="#EDB120"/>
<polyline points="671.7,524.37 793.48,478.48 915.25,433.53 1037.03,420.79 1158.8,381.65" fill="none" stroke="#7E2F8E" stroke-width="2.95" stroke-linejoin="round"/>
<polygon points="671.7,516.27 673.52,521.87 679.4,521.87 674.64,525.33 676.46,530.92 671.7,527.46 666.94,530.92 668.76,525.33 664,521.87 669.88,521.87" fill="#7E2F8E"/>
<polygon points="793.48,470.38 795.29,475.98 801.18,475.98 796.42,479.44 798.24,485.04 793.48,481.58 788.71,485.04 790.53,479.44 785.77,475.98 791.66,475.98" fill="#7E2F8E"/>
<polygon points="915.25,425.43 917.07,431.03 922.95,431.03 918.19,434.49 920.01,440.08 915.25,436.62 910.49,440.08 912.31,434.49 907.55,431.03 913.43,431.03" fill="#7E2F8E"/>
<polygon points="1037.03,412.69 1038.84,418.29 1044.73,418.29 1039.97,421.75 1041.79,427.35 1037.03,423.89 1032.26,427.35 1034.08,421.75 1029.32,418.29 1035.21,418.29" fill="#7E2F8E"/>
<polygon points="1158.8,373.55 1160.62,379.14 1166.5,379.14 1161.74,382.6 1163.56,388.2 1158.8,384.74 1154.04,388.2 1155.86,382.6 1151.1,379.14 1156.98,379.14" fill="#7E2F8E"/>
<polyline points="671.7,523.62 793.48,476.42 915.25,431.47 1037.03,409.37 1158.8,378.65" fill="none" stroke="#77AC30" stroke-width="2.95" stroke-linejoin="round"/>
<polygon points="671.7,515.52 673.52,521.12 679.4,521.12 674.64,524.58 676.46,530.17 671.7,526.72 666.94,530.17 668.76,524.58 664,521.12 669.88,521.12" fill="#77AC30"/>
<polygon points="793.48,468.32 795.29,473.92 801.18,473.92 796.42,477.38 798.24,482.97 793.48,479.52 788.71,482.97 790.53,477.38 785.77,473.92 791.66,473.92" fill="#77AC30"/>
<polygon points="915.25,423.37 917.07,428.97 922.95,428.97 918.19,432.43 920.01,438.02 915.25,434.56 910.49,438.02 912.31,432.43 907.55,428.97 913.43,428.97" fill="#77AC30"/>
<polygon points="1037.03,401.27 1038.84,406.87 1044.73,406.87 1039.97,410.32 1041.79,415.92 1037.03,412.46 1032.26,415.92 1034.08,410.32 1029.32,406.87 1035.21,406.87" fill="#77AC30"/>
<polygon points="1158.8,370.55 1160.62,376.15 1166.5,376.15 1161.74,379.61 1163.56,385.2 1158.8,381.75 1154.04,385.2 1155.86,379.61 1151.1,376.15 1156.98,376.15" fill="#77AC30"/>
<polyline points="671.7,526.43 793.48,481.85 915.25,435.22 1037.03,424.54 1158.8,391.57" fill="none" stroke="#4DBEEE" stroke-width="2.95" stroke-linejoin="round"/>
<polygon points="671.7,518.33 673.52,523.93 679.4,523.93 674.64,527.39 676.46,532.98 671.7,529.53 666.94,532.98 668.76,527.39 664,523.93 669.88,523.93" fill="#4DBEEE"/>
<polygon points="793.48,473.75 795.29,479.35 801.18,479.35 796.42,482.81 798.24,488.41 793.48,484.95 788.71,488.41 790.53,482.81 785.77,479.35 791.66,479.35" fill="#4DBEEE"/>
<polygon points="915.25,427.12 917.07,432.71 922.95,432.71 918.19,436.17 920.01,441.77 915.25,438.31 910.49,441.77 912.31,436.17 907.55,432.71 913.43,432.71" fill="#4DBEEE"/>
<polygon points="1037.03,416.44 1038.84,422.04 1044.73,422.04 1039.97,425.5 1041.79,431.09 1037.03,427.63 1032.26,431.09 1034.08,425.5 1029.32,422.04 1035.21,422.04" fill="#4DBEEE"/>
<polygon points="1158.8,383.47 1160.62,389.07 1166.5,389.07 1161.74,392.53 1163.56,398.13 1158.8,394.67 1154.04,398.13 1155.86,392.53 1151.1,389.07 1156.98,389.07" fill="#4DBEEE"/>
<rect x="683" y="379.9" width="234.9" height="39.5" fill="#fff" stroke="#000" stroke-width="1.6"/>
<path d="M687.6 390.5h41.5" stroke="#0072BD" stroke-width="2.95"/>
<circle cx="708.4" cy="390.5" r="3.45" fill="none" stroke="#0072BD" stroke-width="3.1"/>
<text class="t b" x="732.9" y="395.8" font-size="14" font-weight="bold">0.45</text>
<path d="M687.6 408.5h41.5" stroke="#D95319" stroke-width="2.95"/>
<rect x="705.2" y="405.3" width="6.4" height="6.4" fill="none" stroke="#D95319" stroke-width="2.9"/>
<text class="t b" x="732.9" y="413.8" font-size="14" font-weight="bold">0.5</text>
<path d="M768.3 390.5h41.5" stroke="#EDB120" stroke-width="2.95"/>
<polygon points="782.7,386.7 795.5,386.7 789.1,397.3" fill="#EDB120"/>
<text class="t b" x="813.5" y="395.8" font-size="14" font-weight="bold">0.6</text>
<path d="M768.3 408.5h41.5" stroke="#7E2F8E" stroke-width="2.95"/>
<polygon points="789.1,400.4 790.92,406 796.8,406 792.04,409.46 793.86,415.05 789.1,411.59 784.34,415.05 786.16,409.46 781.4,406 787.28,406" fill="#7E2F8E"/>
<text class="t b" x="813.5" y="413.8" font-size="14" font-weight="bold">0.7</text>
<path d="M841.8 390.5h41.5" stroke="#77AC30" stroke-width="2.95"/>
<polygon points="862.5,382.4 864.32,388 870.2,388 865.44,391.46 867.26,397.05 862.5,393.59 857.74,397.05 859.56,391.46 854.8,388 860.68,388" fill="#77AC30"/>
<text class="t b" x="886.9" y="395.8" font-size="14" font-weight="bold">0.8</text>
<path d="M841.8 408.5h41.5" stroke="#4DBEEE" stroke-width="2.95"/>
<polygon points="862.5,400.4 864.32,406 870.2,406 865.44,409.46 867.26,415.05 862.5,411.59 857.74,415.05 859.56,409.46 854.8,406 860.68,406" fill="#4DBEEE"/>
<text class="t b" x="886.9" y="413.8" font-size="14" font-weight="bold">N2V</text>
<path d="M1390.78 368.1V602.1M1512.65 368.1V602.1M1634.53 368.1V602.1M1268.9 560.8H1756.4M1268.9 519.51H1756.4M1268.9 478.22H1756.4M1268.9 436.92H1756.4M1268.9 395.62H1756.4" stroke="#dedede" stroke-width="1.6" fill="none"/>
<path d="M1268.9 602.1v-6.2M1268.9 368.1v6.2M1390.78 602.1v-6.2M1390.78 368.1v6.2M1512.65 602.1v-6.2M1512.65 368.1v6.2M1634.53 602.1v-6.2M1634.53 368.1v6.2M1756.4 602.1v-6.2M1756.4 368.1v6.2M1268.9 602.1h6.2M1756.4 602.1h-6.2M1268.9 560.8h6.2M1756.4 560.8h-6.2M1268.9 519.51h6.2M1756.4 519.51h-6.2M1268.9 478.22h6.2M1756.4 478.22h-6.2M1268.9 436.92h6.2M1756.4 436.92h-6.2M1268.9 395.62h6.2M1756.4 395.62h-6.2" stroke="#000" stroke-width="1.5" fill="none"/>
<rect x="1268.9" y="368.1" width="487.5" height="234" fill="none" stroke="#000" stroke-width="1.7"/>
<text class="t" x="1268.9" y="627" font-size="16.5" text-anchor="middle">10%</text>
<text class="t" x="1390.78" y="627" font-size="16.5" text-anchor="middle">20%</text>
<text class="t" x="1512.65" y="627" font-size="16.5" text-anchor="middle">40%</text>
<text class="t" x="1634.53" y="627" font-size="16.5" text-anchor="middle">60%</text>
<text class="t" x="1756.4" y="627" font-size="16.5" text-anchor="middle">80%</text>
<text class="t" x="1261.2" y="608.7" font-size="16.5" text-anchor="end">0.25</text>
<text class="t" x="1261.2" y="567.4" font-size="16.5" text-anchor="end">0.28</text>
<text class="t" x="1261.2" y="526.11" font-size="16.5" text-anchor="end">0.31</text>
<text class="t" x="1261.2" y="484.82" font-size="16.5" text-anchor="end">0.34</text>
<text class="t" x="1261.2" y="443.52" font-size="16.5" text-anchor="end">0.37</text>
<text class="t" x="1261.2" y="402.23" font-size="16.5" text-anchor="end">0.4</text>
<text class="t" transform="translate(1511.95,654) scale(1,1.04)" font-size="20.95" text-anchor="middle">Fraction of Labeled Data</text>
<polyline points="1268.9,563.83 1390.78,528.32 1512.65,496.38 1634.53,484.27 1756.4,481.38" fill="none" stroke="#0072BD" stroke-width="2.95" stroke-linejoin="round"/>
<circle cx="1268.9" cy="563.83" r="3.45" fill="none" stroke="#0072BD" stroke-width="3.1"/>
<circle cx="1390.78" cy="528.32" r="3.45" fill="none" stroke="#0072BD" stroke-width="3.1"/>
<circle cx="1512.65" cy="496.38" r="3.45" fill="none" stroke="#0072BD" stroke-width="3.1"/>
<circle cx="1634.53" cy="484.27" r="3.45" fill="none" stroke="#0072BD" stroke-width="3.1"/>
<circle cx="1756.4" cy="481.38" r="3.45" fill="none" stroke="#0072BD" stroke-width="3.1"/>
<polyline points="1268.9,509.87 1390.78,477.25 1512.65,438.98 1634.53,432.38 1756.4,429.49" fill="none" stroke="#D95319" stroke-width="2.95" stroke-linejoin="round"/>
<rect x="1265.7" y="506.67" width="6.4" height="6.4" fill="none" stroke="#D95319" stroke-width="2.9"/>
<rect x="1387.58" y="474.05" width="6.4" height="6.4" fill="none" stroke="#D95319" stroke-width="2.9"/>
<rect x="1509.45" y="435.78" width="6.4" height="6.4" fill="none" stroke="#D95319" stroke-width="2.9"/>
<rect x="1631.33" y="429.18" width="6.4" height="6.4" fill="none" stroke="#D95319" stroke-width="2.9"/>
<rect x="1753.2" y="426.29" width="6.4" height="6.4" fill="none" stroke="#D95319" stroke-width="2.9"/>
<polyline points="1268.9,528.32 1390.78,490.05 1512.65,453.85 1634.53,431.41 1756.4,426.32" fill="none" stroke="#EDB120" stroke-width="2.95" stroke-linejoin="round"/>
<polygon points="1262.5,524.52 1275.3,524.52 1268.9,535.12" fill="#EDB120"/>
<polygon points="1384.38,486.25 1397.18,486.25 1390.78,496.85" fill="#EDB120"/>
<polygon points="1506.25,450.05 1519.05,450.05 1512.65,460.65" fill="#EDB120"/>
<polygon points="1628.12,427.61 1640.93,427.61 1634.53,438.21" fill="#EDB120"/>
<polygon points="1750,422.52 1762.8,422.52 1756.4,433.12" fill="#EDB120"/>
<polyline points="1268.9,509.87 1390.78,468.58 1512.65,432.79 1634.53,423.98 1756.4,418.34" fill="none" stroke="#7E2F8E" stroke-width="2.95" stroke-linejoin="round"/>
<polygon points="1268.9,501.77 1270.72,507.37 1276.6,507.37 1271.84,510.83 1273.66,516.43 1268.9,512.97 1264.14,516.43 1265.96,510.83 1261.2,507.37 1267.08,507.37" fill="#7E2F8E"/>
<polygon points="1390.78,460.48 1392.59,466.08 1398.48,466.08 1393.72,469.54 1395.54,475.13 1390.78,471.67 1386.01,475.13 1387.83,469.54 1383.07,466.08 1388.96,466.08" fill="#7E2F8E"/>
<polygon points="1512.65,424.69 1514.47,430.29 1520.35,430.29 1515.59,433.75 1517.41,439.34 1512.65,435.88 1507.89,439.34 1509.71,433.75 1504.95,430.29 1510.83,430.29" fill="#7E2F8E"/>
<polygon points="1634.53,415.88 1636.34,421.48 1642.23,421.48 1637.47,424.94 1639.29,430.53 1634.53,427.08 1629.76,430.53 1631.58,424.94 1626.82,421.48 1632.71,421.48" fill="#7E2F8E"/>
<polygon points="1756.4,410.24 1758.22,415.83 1764.1,415.83 1759.34,419.29 1761.16,424.89 1756.4,421.43 1751.64,424.89 1753.46,419.29 1748.7,415.83 1754.58,415.83" fill="#7E2F8E"/>
<polyline points="1268.9,508.5 1390.78,469.41 1512.65,432.79 1634.53,419.58 1756.4,417.37" fill="none" stroke="#77AC30" stroke-width="2.95" stroke-linejoin="round"/>
<polygon points="1268.9,500.4 1270.72,505.99 1276.6,505.99 1271.84,509.45 1273.66,515.05 1268.9,511.59 1264.14,515.05 1265.96,509.45 1261.2,505.99 1267.08,505.99" fill="#77AC30"/>
<polygon points="1390.78,461.31 1392.59,466.9 1398.48,466.9 1393.72,470.36 1395.54,475.96 1390.78,472.5 1386.01,475.96 1387.83,470.36 1383.07,466.9 1388.96,466.9" fill="#77AC30"/>
<polygon points="1512.65,424.69 1514.47,430.29 1520.35,430.29 1515.59,433.75 1517.41,439.34 1512.65,435.88 1507.89,439.34 1509.71,433.75 1504.95,430.29 1510.83,430.29" fill="#77AC30"/>
<polygon points="1634.53,411.48 1636.34,417.07 1642.23,417.07 1637.47,420.53 1639.29,426.13 1634.53,422.67 1629.76,426.13 1631.58,420.53 1626.82,417.07 1632.71,417.07" fill="#77AC30"/>
<polygon points="1756.4,409.27 1758.22,414.87 1764.1,414.87 1759.34,418.33 1761.16,423.93 1756.4,420.47 1751.64,423.93 1753.46,418.33 1748.7,414.87 1754.58,414.87" fill="#77AC30"/>
<polyline points="1268.9,508.22 1390.78,467.2 1512.65,432.38 1634.53,421.09 1756.4,416.27" fill="none" stroke="#4DBEEE" stroke-width="2.95" stroke-linejoin="round"/>
<polygon points="1268.9,500.12 1270.72,505.72 1276.6,505.72 1271.84,509.18 1273.66,514.78 1268.9,511.32 1264.14,514.78 1265.96,509.18 1261.2,505.72 1267.08,505.72" fill="#4DBEEE"/>
<polygon points="1390.78,459.1 1392.59,464.7 1398.48,464.7 1393.72,468.16 1395.54,473.76 1390.78,470.3 1386.01,473.76 1387.83,468.16 1383.07,464.7 1388.96,464.7" fill="#4DBEEE"/>
<polygon points="1512.65,424.28 1514.47,429.87 1520.35,429.87 1515.59,433.33 1517.41,438.93 1512.65,435.47 1507.89,438.93 1509.71,433.33 1504.95,429.87 1510.83,429.87" fill="#4DBEEE"/>
<polygon points="1634.53,412.99 1636.34,418.59 1642.23,418.59 1637.47,422.05 1639.29,427.64 1634.53,424.18 1629.76,427.64 1631.58,422.05 1626.82,418.59 1632.71,418.59" fill="#4DBEEE"/>
<polygon points="1756.4,408.17 1758.22,413.77 1764.1,413.77 1759.34,417.23 1761.16,422.83 1756.4,419.37 1751.64,422.83 1753.46,417.23 1748.7,413.77 1754.58,413.77" fill="#4DBEEE"/>
<rect x="1280.2" y="379.9" width="240.1" height="39.5" fill="#fff" stroke="#000" stroke-width="1.6"/>
<path d="M1284.8 390.5h41.5" stroke="#0072BD" stroke-width="2.95"/>
<circle cx="1305.6" cy="390.5" r="3.45" fill="none" stroke="#0072BD" stroke-width="3.1"/>
<text class="t b" x="1330.1" y="395.8" font-size="14" font-weight="bold">0.45</text>
<path d="M1284.8 408.5h41.5" stroke="#D95319" stroke-width="2.95"/>
<rect x="1302.4" y="405.3" width="6.4" height="6.4" fill="none" stroke="#D95319" stroke-width="2.9"/>
<text class="t b" x="1330.1" y="413.8" font-size="14" font-weight="bold">0.5</text>
<path d="M1365.5 390.5h41.5" stroke="#EDB120" stroke-width="2.95"/>
<polygon points="1379.9,386.7 1392.7,386.7 1386.3,397.3" fill="#EDB120"/>
<text class="t b" x="1410.7" y="395.8" font-size="14" font-weight="bold">0.6</text>
<path d="M1365.5 408.5h41.5" stroke="#7E2F8E" stroke-width="2.95"/>
<polygon points="1386.3,400.4 1388.12,406 1394,406 1389.24,409.46 1391.06,415.05 1386.3,411.59 1381.54,415.05 1383.36,409.46 1378.6,406 1384.48,406" fill="#7E2F8E"/>
<text class="t b" x="1410.7" y="413.8" font-size="14" font-weight="bold">0.7</text>
<path d="M1439 390.5h41.5" stroke="#77AC30" stroke-width="2.95"/>
<polygon points="1459.7,382.4 1461.52,388 1467.4,388 1462.64,391.46 1464.46,397.05 1459.7,393.59 1454.94,397.05 1456.76,391.46 1452,388 1457.88,388" fill="#77AC30"/>
<text class="t b" x="1484.1" y="395.8" font-size="14" font-weight="bold">0.8</text>
<path d="M1439 408.5h41.5" stroke="#4DBEEE" stroke-width="2.95"/>
<polygon points="1459.7,400.4 1461.52,406 1467.4,406 1462.64,409.46 1464.46,415.05 1459.7,411.59 1454.94,415.05 1456.76,409.46 1452,406 1457.88,406" fill="#4DBEEE"/>
<text class="t b" x="1484.1" y="413.8" font-size="14" font-weight="bold">LINE</text>
<text class="t" transform="translate(-0.6,27.5) scale(1.04,1)" font-size="38" font-weight="bold">A</text>
<text class="t" transform="translate(602.6,27.5) scale(1.02,1)" font-size="38" font-weight="bold">B</text>
<text class="t" transform="translate(1199.4,27.5) scale(1.02,1)" font-size="38" font-weight="bold">C</text>
<text class="s" x="210.6" y="697" font-size="38">DeepWalk</text>
<text class="s" x="799" y="697" font-size="38">Node2vec</text>
<text class="s" x="1459.2" y="697" font-size="38">LINE</text>
<text class="t" transform="translate(20.9,555.8) rotate(-90) scale(1,1.09)" font-size="27.9">MICRO<tspan x="111.1" font-style="italic">F</tspan><tspan font-size="21.5" dx="-1.2" dy="13.3">1</tspan></text>
</svg></body></html>
